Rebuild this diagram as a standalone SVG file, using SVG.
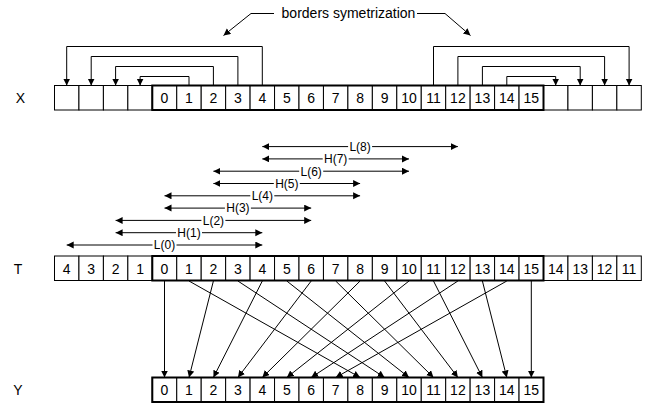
<svg xmlns="http://www.w3.org/2000/svg" width="661" height="409" viewBox="0 0 661 409">
<style>
.c{fill:#fff;stroke:#000;stroke-width:1}
.f{fill:none;stroke:#000;stroke-width:2}
.t{font-family:"Liberation Sans",Arial,sans-serif;font-size:14px;fill:#000;text-anchor:middle}
.s{font-family:"Liberation Sans",Arial,sans-serif;font-size:12px;fill:#000;text-anchor:middle}
.ln{fill:none;stroke:#000;stroke-width:1}
.bg{fill:#fff;stroke:none}
</style>
<defs>
<marker id="ah" markerUnits="userSpaceOnUse" markerWidth="8" markerHeight="8" refX="7" refY="3.5" orient="auto-start-reverse">
<path d="M0,0 L7,3.5 L0,7 z" fill="#000"/>
</marker>
</defs>
<rect width="661" height="409" fill="#fff"/>

<g id="lbl-title">
<text class="t" x="348.5" y="18">borders symetrization</text>
</g>
<g id="row-labels">
<text class="t" x="20.5" y="103">X</text>
<text class="t" x="18" y="273.5">T</text>
<text class="t" x="18" y="395">Y</text>
</g>

<g id="row-X">
<rect class="c" x="54.5" y="85.5" width="24.45" height="24.5"/>
<rect class="c" x="78.95" y="85.5" width="24.45" height="24.5"/>
<rect class="c" x="103.4" y="85.5" width="24.45" height="24.5"/>
<rect class="c" x="127.85" y="85.5" width="24.45" height="24.5"/>
<rect class="c" x="152.3" y="85.5" width="24.45" height="24.5"/>
<rect class="c" x="176.75" y="85.5" width="24.45" height="24.5"/>
<rect class="c" x="201.2" y="85.5" width="24.45" height="24.5"/>
<rect class="c" x="225.65" y="85.5" width="24.45" height="24.5"/>
<rect class="c" x="250.1" y="85.5" width="24.45" height="24.5"/>
<rect class="c" x="274.55" y="85.5" width="24.45" height="24.5"/>
<rect class="c" x="299" y="85.5" width="24.45" height="24.5"/>
<rect class="c" x="323.45" y="85.5" width="24.45" height="24.5"/>
<rect class="c" x="347.9" y="85.5" width="24.45" height="24.5"/>
<rect class="c" x="372.35" y="85.5" width="24.45" height="24.5"/>
<rect class="c" x="396.8" y="85.5" width="24.45" height="24.5"/>
<rect class="c" x="421.25" y="85.5" width="24.45" height="24.5"/>
<rect class="c" x="445.7" y="85.5" width="24.45" height="24.5"/>
<rect class="c" x="470.15" y="85.5" width="24.45" height="24.5"/>
<rect class="c" x="494.6" y="85.5" width="24.45" height="24.5"/>
<rect class="c" x="519.05" y="85.5" width="24.45" height="24.5"/>
<rect class="c" x="543.5" y="85.5" width="24.45" height="24.5"/>
<rect class="c" x="567.95" y="85.5" width="24.45" height="24.5"/>
<rect class="c" x="592.4" y="85.5" width="24.45" height="24.5"/>
<rect class="c" x="616.85" y="85.5" width="24.45" height="24.5"/>
<rect class="f" x="152.3" y="85.5" width="391.2" height="24.5"/>
<text class="t" y="103"><tspan x="164.5">0</tspan><tspan x="189">1</tspan><tspan x="213.4">2</tspan><tspan x="237.9">3</tspan><tspan x="262.3">4</tspan><tspan x="286.8">5</tspan><tspan x="311.2">6</tspan><tspan x="335.7">7</tspan><tspan x="360.1">8</tspan><tspan x="384.6">9</tspan><tspan x="409">10</tspan><tspan x="433.5">11</tspan><tspan x="457.9">12</tspan><tspan x="482.4">13</tspan><tspan x="506.8">14</tspan><tspan x="531.3">15</tspan></text>
</g>

<g id="row-T">
<rect class="c" x="54.5" y="256" width="24.45" height="24.5"/>
<rect class="c" x="78.95" y="256" width="24.45" height="24.5"/>
<rect class="c" x="103.4" y="256" width="24.45" height="24.5"/>
<rect class="c" x="127.85" y="256" width="24.45" height="24.5"/>
<rect class="c" x="152.3" y="256" width="24.45" height="24.5"/>
<rect class="c" x="176.75" y="256" width="24.45" height="24.5"/>
<rect class="c" x="201.2" y="256" width="24.45" height="24.5"/>
<rect class="c" x="225.65" y="256" width="24.45" height="24.5"/>
<rect class="c" x="250.1" y="256" width="24.45" height="24.5"/>
<rect class="c" x="274.55" y="256" width="24.45" height="24.5"/>
<rect class="c" x="299" y="256" width="24.45" height="24.5"/>
<rect class="c" x="323.45" y="256" width="24.45" height="24.5"/>
<rect class="c" x="347.9" y="256" width="24.45" height="24.5"/>
<rect class="c" x="372.35" y="256" width="24.45" height="24.5"/>
<rect class="c" x="396.8" y="256" width="24.45" height="24.5"/>
<rect class="c" x="421.25" y="256" width="24.45" height="24.5"/>
<rect class="c" x="445.7" y="256" width="24.45" height="24.5"/>
<rect class="c" x="470.15" y="256" width="24.45" height="24.5"/>
<rect class="c" x="494.6" y="256" width="24.45" height="24.5"/>
<rect class="c" x="519.05" y="256" width="24.45" height="24.5"/>
<rect class="c" x="543.5" y="256" width="24.45" height="24.5"/>
<rect class="c" x="567.95" y="256" width="24.45" height="24.5"/>
<rect class="c" x="592.4" y="256" width="24.45" height="24.5"/>
<rect class="c" x="616.85" y="256" width="24.45" height="24.5"/>
<rect class="f" x="152.3" y="256" width="391.2" height="24.5"/>
<text class="t" y="273.5"><tspan x="66.7">4</tspan><tspan x="91.2">3</tspan><tspan x="115.6">2</tspan><tspan x="140.1">1</tspan><tspan x="164.5">0</tspan><tspan x="189">1</tspan><tspan x="213.4">2</tspan><tspan x="237.9">3</tspan><tspan x="262.3">4</tspan><tspan x="286.8">5</tspan><tspan x="311.2">6</tspan><tspan x="335.7">7</tspan><tspan x="360.1">8</tspan><tspan x="384.6">9</tspan><tspan x="409">10</tspan><tspan x="433.5">11</tspan><tspan x="457.9">12</tspan><tspan x="482.4">13</tspan><tspan x="506.8">14</tspan><tspan x="531.3">15</tspan><tspan x="555.7">14</tspan><tspan x="580.2">13</tspan><tspan x="604.6">12</tspan><tspan x="629.1">11</tspan></text>
</g>

<g id="row-Y">
<rect class="c" x="152.3" y="377.5" width="24.45" height="24.5"/>
<rect class="c" x="176.75" y="377.5" width="24.45" height="24.5"/>
<rect class="c" x="201.2" y="377.5" width="24.45" height="24.5"/>
<rect class="c" x="225.65" y="377.5" width="24.45" height="24.5"/>
<rect class="c" x="250.1" y="377.5" width="24.45" height="24.5"/>
<rect class="c" x="274.55" y="377.5" width="24.45" height="24.5"/>
<rect class="c" x="299" y="377.5" width="24.45" height="24.5"/>
<rect class="c" x="323.45" y="377.5" width="24.45" height="24.5"/>
<rect class="c" x="347.9" y="377.5" width="24.45" height="24.5"/>
<rect class="c" x="372.35" y="377.5" width="24.45" height="24.5"/>
<rect class="c" x="396.8" y="377.5" width="24.45" height="24.5"/>
<rect class="c" x="421.25" y="377.5" width="24.45" height="24.5"/>
<rect class="c" x="445.7" y="377.5" width="24.45" height="24.5"/>
<rect class="c" x="470.15" y="377.5" width="24.45" height="24.5"/>
<rect class="c" x="494.6" y="377.5" width="24.45" height="24.5"/>
<rect class="c" x="519.05" y="377.5" width="24.45" height="24.5"/>
<rect class="f" x="152.3" y="377.5" width="391.2" height="24.5"/>
<text class="t" y="395"><tspan x="164.5">0</tspan><tspan x="189">1</tspan><tspan x="213.4">2</tspan><tspan x="237.9">3</tspan><tspan x="262.3">4</tspan><tspan x="286.8">5</tspan><tspan x="311.2">6</tspan><tspan x="335.7">7</tspan><tspan x="360.1">8</tspan><tspan x="384.6">9</tspan><tspan x="409">10</tspan><tspan x="433.5">11</tspan><tspan x="457.9">12</tspan><tspan x="482.4">13</tspan><tspan x="506.8">14</tspan><tspan x="531.3">15</tspan></text>
</g>

<g id="connectors">
<!-- title leaders -->
<polyline class="ln" points="274,13.5 251,13.5 223.5,35.5" marker-end="url(#ah)"/>
<polyline class="ln" points="417,13.5 445,13.5 470.5,35.5" marker-end="url(#ah)"/>
<!-- border symmetrization arcs -->
<polyline class="ln" points="262.3,85.5 262.3,46.5 66.7,46.5 66.7,85.5" marker-end="url(#ah)"/>
<polyline class="ln" points="237.9,85.5 237.9,56.5 91.2,56.5 91.2,85.5" marker-end="url(#ah)"/>
<polyline class="ln" points="213.4,85.5 213.4,66.5 115.6,66.5 115.6,85.5" marker-end="url(#ah)"/>
<polyline class="ln" points="189,85.5 189,76.5 140.1,76.5 140.1,85.5" marker-end="url(#ah)"/>
<polyline class="ln" points="433.5,85.5 433.5,46.5 629.1,46.5 629.1,85.5" marker-end="url(#ah)"/>
<polyline class="ln" points="457.9,85.5 457.9,56.5 604.6,56.5 604.6,85.5" marker-end="url(#ah)"/>
<polyline class="ln" points="482.4,85.5 482.4,66.5 580.2,66.5 580.2,85.5" marker-end="url(#ah)"/>
<polyline class="ln" points="506.8,85.5 506.8,76.5 555.7,76.5 555.7,85.5" marker-end="url(#ah)"/>
<!-- filter support arrows -->
<line class="ln" x1="262.3" y1="146.6" x2="457.9" y2="146.6" marker-start="url(#ah)" marker-end="url(#ah)"/>
<line class="ln" x1="262.3" y1="158.9" x2="409" y2="158.9" marker-start="url(#ah)" marker-end="url(#ah)"/>
<line class="ln" x1="213.4" y1="171.2" x2="409" y2="171.2" marker-start="url(#ah)" marker-end="url(#ah)"/>
<line class="ln" x1="213.4" y1="183.5" x2="360.1" y2="183.5" marker-start="url(#ah)" marker-end="url(#ah)"/>
<line class="ln" x1="164.5" y1="195.8" x2="360.1" y2="195.8" marker-start="url(#ah)" marker-end="url(#ah)"/>
<line class="ln" x1="164.5" y1="208.1" x2="311.2" y2="208.1" marker-start="url(#ah)" marker-end="url(#ah)"/>
<line class="ln" x1="115.6" y1="220.4" x2="311.2" y2="220.4" marker-start="url(#ah)" marker-end="url(#ah)"/>
<line class="ln" x1="115.6" y1="232.7" x2="262.3" y2="232.7" marker-start="url(#ah)" marker-end="url(#ah)"/>
<line class="ln" x1="66.7" y1="245" x2="262.3" y2="245" marker-start="url(#ah)" marker-end="url(#ah)"/>
<rect class="bg" x="348.1" y="140" width="24" height="13"/><text class="s" x="360.1" y="150.9">L(8)</text>
<rect class="bg" x="322.7" y="152.3" width="26" height="13"/><text class="s" x="335.7" y="163.2">H(7)</text>
<rect class="bg" x="299.2" y="164.6" width="24" height="13"/><text class="s" x="311.2" y="175.5">L(6)</text>
<rect class="bg" x="273.8" y="176.9" width="26" height="13"/><text class="s" x="286.8" y="187.8">H(5)</text>
<rect class="bg" x="250.3" y="189.2" width="24" height="13"/><text class="s" x="262.3" y="200.1">L(4)</text>
<rect class="bg" x="224.9" y="201.5" width="26" height="13"/><text class="s" x="237.9" y="212.4">H(3)</text>
<rect class="bg" x="201.4" y="213.8" width="24" height="13"/><text class="s" x="213.4" y="224.7">L(2)</text>
<rect class="bg" x="176" y="226.1" width="26" height="13"/><text class="s" x="189" y="237">H(1)</text>
<rect class="bg" x="152.5" y="238.4" width="24" height="13"/><text class="s" x="164.5" y="249.3">L(0)</text>
<!-- T to Y -->
<line class="ln" x1="164.5" y1="281" x2="164.5" y2="377.5" marker-end="url(#ah)"/>
<line class="ln" x1="213.4" y1="281" x2="189" y2="377.5" marker-end="url(#ah)"/>
<line class="ln" x1="262.3" y1="281" x2="213.4" y2="377.5" marker-end="url(#ah)"/>
<line class="ln" x1="311.2" y1="281" x2="237.9" y2="377.5" marker-end="url(#ah)"/>
<line class="ln" x1="360.1" y1="281" x2="262.3" y2="377.5" marker-end="url(#ah)"/>
<line class="ln" x1="409" y1="281" x2="286.8" y2="377.5" marker-end="url(#ah)"/>
<line class="ln" x1="457.9" y1="281" x2="311.2" y2="377.5" marker-end="url(#ah)"/>
<line class="ln" x1="506.8" y1="281" x2="335.7" y2="377.5" marker-end="url(#ah)"/>
<line class="ln" x1="189" y1="281" x2="360.1" y2="377.5" marker-end="url(#ah)"/>
<line class="ln" x1="237.9" y1="281" x2="384.6" y2="377.5" marker-end="url(#ah)"/>
<line class="ln" x1="286.8" y1="281" x2="409" y2="377.5" marker-end="url(#ah)"/>
<line class="ln" x1="335.7" y1="281" x2="433.5" y2="377.5" marker-end="url(#ah)"/>
<line class="ln" x1="384.6" y1="281" x2="457.9" y2="377.5" marker-end="url(#ah)"/>
<line class="ln" x1="433.5" y1="281" x2="482.4" y2="377.5" marker-end="url(#ah)"/>
<line class="ln" x1="482.4" y1="281" x2="506.8" y2="377.5" marker-end="url(#ah)"/>
<line class="ln" x1="531.3" y1="281" x2="531.3" y2="377.5" marker-end="url(#ah)"/>
</g>
</svg>
